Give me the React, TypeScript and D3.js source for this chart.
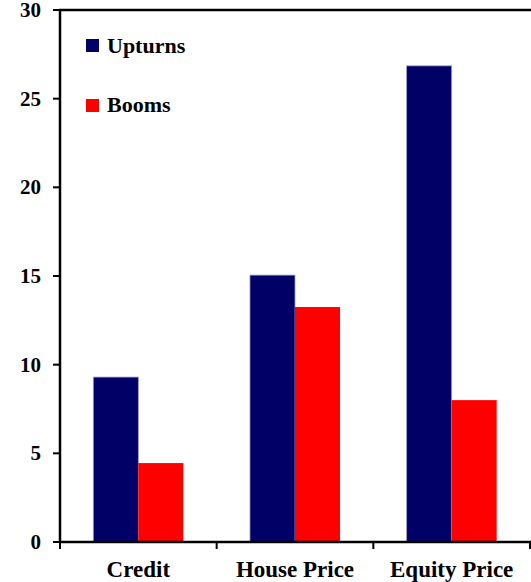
import React from "react";
import * as d3 from "d3";

const categories = ["Credit", "House Price", "Equity Price"];
const seriesNames = ["Upturns", "Booms"];
const upturns = [9.3, 15.05, 26.85];
const booms = [4.45, 13.25, 8.0];
const yTicks = [0, 5, 10, 15, 20, 25, 30];
const colors = ["#000066", "#FF0000"];

export default function App() {
  const W = 531;
  const H = 582;
  const left = 60;
  const right = 530;
  const top = 10;
  const bottom = 542;

  const x = d3.scaleBand<string>().domain(categories).range([left, right]).paddingInner(0).paddingOuter(0);
  const y = d3.scaleLinear().domain([0, 30]).range([bottom, top]);
  const inner = d3.scaleBand<string>().domain(seriesNames).range([0, x.bandwidth()]).paddingOuter(0.74).paddingInner(0);
  const values = [upturns, booms];
  const font = "'Liberation Serif', 'Times New Roman', serif";

  const xTicks = [left, ...categories.map((c) => (x(c) as number) + x.bandwidth())];

  return (
    <svg width={W} height={H} style={{ position: "absolute", left: 0, top: 0, background: "#fff" }}>
      {seriesNames.map((s, si) =>
        categories.map((c, ci) => {
          const v = values[si][ci];
          const bx = (x(c) as number) + (inner(s) as number);
          return (
            <rect
              key={s + c}
              x={bx}
              y={y(v)}
              width={inner.bandwidth()}
              height={y(0) - y(v)}
              fill={colors[si]}
              stroke={si === 0 ? "#9a9ac8" : "none"}
              strokeWidth={0.8}
            />
          );
        })
      )}
      {/* axes */}
      <line x1={left} x2={left} y1={top - 1} y2={bottom + 1} stroke="#000" strokeWidth={2.5} />
      <line x1={left - 1} x2={W} y1={bottom} y2={bottom} stroke="#000" strokeWidth={2.5} />
      <line x1={left - 1} x2={W} y1={top} y2={top} stroke="#000" strokeWidth={2.5} />
      {yTicks.map((t) => (
        <g key={t}>
          <line x1={left - 7} x2={left} y1={y(t)} y2={y(t)} stroke="#000" strokeWidth={2} />
          <text
            x={41}
            y={y(t) + 7}
            textAnchor="end"
            fontFamily={font}
            fontWeight="bold"
            fontSize={21}
            fill="#000"
          >
            {t}
          </text>
        </g>
      ))}
      {xTicks.map((tx, i) => (
        <line key={i} x1={tx} x2={tx} y1={bottom} y2={bottom + 7} stroke="#000" strokeWidth={2} />
      ))}
      {categories.map((c) => (
        <text
          key={c}
          x={(x(c) as number) + x.bandwidth() / 2}
          y={577}
          textAnchor="middle"
          fontFamily={font}
          fontWeight="bold"
          fontSize={23}
          fill="#000"
        >
          {c}
        </text>
      ))}
      {/* legend */}
      {seriesNames.map((s, i) => (
        <g key={s}>
          <rect x={86} y={39 + i * 60} width={13} height={13} fill={colors[i]} />
          <text x={107} y={53 + i * 59} fontFamily={font} fontWeight="bold" fontSize={22} fill="#000">
            {s}
          </text>
        </g>
      ))}
    </svg>
  );
}
